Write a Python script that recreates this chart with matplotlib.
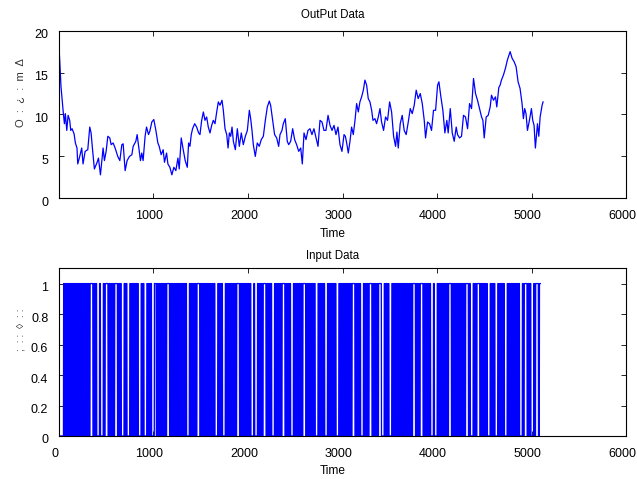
import numpy as np
import matplotlib
matplotlib.use("Agg")
import matplotlib.pyplot as plt
from matplotlib.transforms import ScaledTranslation

plt.rcParams['font.family'] = ['Liberation Sans', 'DejaVu Sans']

# output signal (time, value)
out_time = [
    1, 24, 49, 60, 70, 85, 99, 116, 127, 141, 162, 176, 193, 201, 222, 243, 257,
    279, 307, 328, 342, 360, 377, 406, 420, 441, 469, 483, 501, 519, 540, 554,
    575, 596, 624, 646, 667, 681, 702, 723, 748, 773, 787, 815, 829, 843, 864,
    878, 892, 913, 928, 949, 963, 984, 1005, 1027, 1048, 1062, 1083, 1104, 1118,
    1140, 1154, 1175, 1196, 1217, 1238, 1260, 1274, 1295, 1316, 1337, 1359, 1373,
    1387, 1401, 1415, 1437, 1458, 1479, 1493, 1511, 1529, 1546, 1564, 1581, 1599,
    1617, 1634, 1652, 1670, 1687, 1705, 1726, 1740, 1758, 1776, 1790, 1804, 1818,
    1832, 1846, 1867, 1888, 1909, 1930, 1951, 1973, 1994, 2015, 2029, 2043, 2057,
    2078, 2099, 2120, 2141, 2163, 2184, 2205, 2226, 2240, 2261, 2282, 2304, 2325,
    2339, 2360, 2374, 2395, 2416, 2431, 2452, 2473, 2494, 2515, 2537, 2558, 2575,
    2593, 2614, 2635, 2656, 2677, 2698, 2720, 2741, 2762, 2783, 2804, 2825, 2847,
    2868, 2889, 2910, 2931, 2952, 2973, 2994, 3016, 3030, 3044, 3061, 3079, 3096,
    3114, 3132, 3149, 3167, 3184, 3202, 3220, 3237, 3255, 3272, 3290, 3308, 3322,
    3343, 3360, 3378, 3396, 3413, 3434, 3455, 3476, 3498, 3519, 3540, 3561, 3575,
    3589, 3610, 3631, 3652, 3673, 3695, 3716, 3737, 3758, 3779, 3800, 3822, 3843,
    3864, 3878, 3899, 3920, 3941, 3962, 3984, 4005, 4019, 4040, 4061, 4082, 4103,
    4117, 4139, 4160, 4181, 4202, 4216, 4237, 4258, 4279, 4300, 4322, 4343, 4364,
    4385, 4406, 4427, 4448, 4470, 4484, 4498, 4519, 4540, 4561, 4575, 4596, 4617,
    4631, 4652, 4666, 4680, 4701, 4722, 4743, 4772, 4793, 4814, 4835, 4856, 4877,
    4898, 4912, 4926, 4940, 4955, 4976, 4997, 5011, 5025, 5039, 5061, 5075, 5089,
    5110, 5120,
]
out_value = [
    18.6, 13.3, 10.1, 8.9, 10.1, 8.1, 9.9, 9.3, 8.1, 8.3, 7.7, 6.6, 6.0, 4.1, 5.0, 6.0, 4.1,
    5.6, 5.8, 8.5, 7.8, 5.5, 3.5, 4.3, 4.8, 2.8, 6.0, 4.5, 5.6, 7.4, 7.2, 6.4,
    6.6, 6.0, 5.0, 4.5, 6.4, 6.5, 3.3, 4.5, 5.0, 5.2, 6.2, 6.8, 7.6, 6.4, 4.5,
    5.4, 4.5, 7.4, 8.5, 7.6, 8.0, 9.1, 9.4, 8.1, 6.6, 6.2, 5.2, 5.8, 4.3,
    5.4, 4.1, 3.7, 2.8, 3.7, 3.3, 4.8, 3.5, 7.2, 5.8, 4.5, 3.7, 6.6,
    6.2, 7.6, 8.3, 8.9, 8.5, 7.8, 7.6, 9.3, 10.3, 9.3, 9.7, 8.5, 7.8,
    8.7, 9.3, 8.9, 10.3, 11.5, 11.1, 11.7, 10.5, 8.3, 7.6, 6.0, 7.8, 7.4,
    8.5, 6.8, 5.8, 8.3, 6.2, 7.8, 6.4, 7.4, 8.1, 10.5, 9.5, 8.1, 6.4,
    5.0, 6.6, 6.2, 7.0, 7.4, 9.3, 10.9, 11.6, 11.1, 9.3, 7.6, 7.2, 6.2,
    7.6, 8.1, 8.9, 9.5, 6.8, 6.4, 6.8, 8.3, 7.0, 6.4, 5.6, 6.0, 4.1,
    7.8, 7.0, 8.1, 8.3, 7.6, 8.3, 7.2, 6.2, 9.3, 9.1, 8.1, 8.1, 9.9,
    8.7, 8.1, 8.7, 7.6, 8.5, 6.4, 5.6, 7.6, 7.4, 6.6, 5.4, 6.8, 8.5,
    7.6, 9.3, 11.3, 10.3, 11.5, 12.1, 12.9, 14.1, 13.5, 11.9, 11.5, 10.5, 9.3,
    9.5, 8.9, 9.7, 10.7, 9.1, 8.1, 9.7, 9.3, 11.5, 10.3, 7.4, 6.2, 7.9,
    6.0, 8.9, 9.9, 8.1, 7.6, 9.1, 10.7, 10.1, 11.1, 12.9, 11.9, 12.5, 11.3,
    9.3, 7.2, 9.1, 8.9, 8.1, 10.5, 10.5, 13.5, 13.9, 12.1, 10.5, 7.8, 9.3,
    7.8, 10.7, 7.8, 6.8, 8.5, 7.6, 7.2, 7.4, 9.9, 9.7, 8.3, 11.3, 10.7,
    14.3, 12.5, 11.7, 10.7, 9.7, 9.3, 7.2, 9.7, 9.9, 10.9, 12.3, 11.7, 12.1,
    10.9, 13.2, 13.5, 14.1, 14.7, 15.5, 16.5, 17.5, 16.7, 16.3, 15.7, 13.9, 13.1,
    11.3, 9.5, 10.7, 10.1, 8.1, 9.3, 10.7, 9.3, 8.7, 6.0, 8.9, 7.4, 9.7,
    11.1, 11.5,
]

# input signal: one character per block of 10 samples (0 / 1),
# spaces only split the dense switching from the quiet stretches
input_block = 10
input_rows = [
    "00000 1010101010101010101010101010 111 0101 000 1 000 10 111 0101010 111 01",
    "01 000 101 000 101010101 000 101 000 10101 000 1 101010101010 111 01010101",
    "0101010101 000 10101010 111 0101010101010101 000 10101 000 101010101010 1",
    "11 010101010101 000 1 000 101010 111 010101 000 10101010 111 010101 000 10101",
    "01010 111 0101010101 000 1010101 000 101010101 000 10101010101010 111 0101",
    "01 000 101010 111 0101010 111 000 10101 000 1010101010101010101010 111 0101",
    "0 111 01010101 000 1 000 101010101010 111 010101010101010 111 01 000 1010 111",
    "01010101 000 10101 000 1010101 000 1010101010101 000 10 111 0101 000 10 111 01",
]

fs = 9.0

fig = plt.figure(figsize=(6.37, 4.79), dpi=100)
ax1 = fig.add_axes([0.0922, 0.586, 0.891, 0.350])
ax2 = fig.add_axes([0.0922, 0.0898, 0.891, 0.350])

ax1.plot(out_time, out_value, color='#0000ff', lw=0.9)
ax1.set_xlim(0, 6000)
ax1.set_ylim(0, 20)
ax1.set_xticks([1000, 2000, 3000, 4000, 5000, 6000])
ax1.set_yticks([0, 5, 10, 15, 20])
ax1.set_title('OutPut Data', fontsize=8.3, pad=9, x=0.483)
ax1.set_xlabel('Time', fontsize=8.6, labelpad=4, x=0.483)

bits = np.array([int(c) for c in "".join(input_rows).replace(" ", "")])
u = np.repeat(bits, input_block)
t = np.arange(1, len(u) + 1)
ax2.plot(t, u, color='#0000ff', lw=0.95)
ax2.set_xlim(0, 6000)
ax2.set_ylim(0, 1.1)
ax2.set_xticks([0, 1000, 2000, 3000, 4000, 5000, 6000])
ax2.set_yticks([0, 0.2, 0.4, 0.6, 0.8, 1])
ax2.set_yticklabels(['0', '0.2', '0.4', '0.6', '0.8', '1'])
ax2.set_title('Input Data', fontsize=8.3, pad=7, x=0.483)
ax2.set_xlabel('Time', fontsize=8.6, labelpad=4, x=0.483)

xshift = ScaledTranslation(-4 / 100, 0, fig.dpi_scale_trans)
yshift = ScaledTranslation(0, -3 / 100, fig.dpi_scale_trans)
for ax in (ax1, ax2):
    ax.tick_params(direction='in', top=True, right=True, length=3.5,
                   width=0.6, labelsize=fs)
    ax.tick_params(axis='x', pad=8.5)
    ax.tick_params(axis='y', pad=7.5)
    for s in ax.spines.values():
        s.set_linewidth(0.8)
    for lab in ax.get_xticklabels():
        lab.set_transform(lab.get_transform() + xshift)
    for lab in ax.get_yticklabels():
        lab.set_transform(lab.get_transform() + yshift)

# garbled y labels, as they appear in the picture
fig.text(0.032, 1 - 93 / 479, 'O  :  ¿  :  m  Δ', rotation=90, fontsize=8,
         color='#333333', ha='center', va='center')
fig.text(0.032, 1 - 330 / 479, ';  : :  ◊  : :', rotation=90, fontsize=7.5,
         color='#333333', ha='center', va='center')

fig.savefig('out.png', dpi=100)
